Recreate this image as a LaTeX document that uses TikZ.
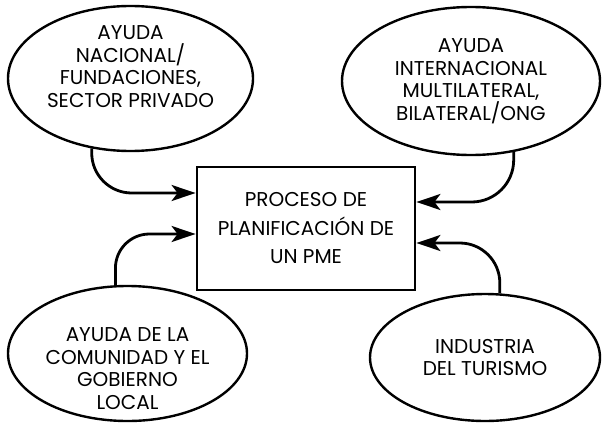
\documentclass[tikz,border=0pt]{standalone}
\usepackage{fontspec}
\setmainfont{Poppins}
\usetikzlibrary{shapes}
\usetikzlibrary{positioning,arrows.meta}

\tikzset{
  ell/.style={ellipse,draw,line width=1.2pt,inner sep=0pt},
  txt/.style={align=center,font=\fontsize{10}{11.25}\selectfont},
  arr/.style={-{Stealth[length=12pt,width=8pt,inset=3pt]},line width=1.4pt},
}

\begin{document}
\begin{tikzpicture}[node distance=2cm,on grid,align=center]
  \useasboundingbox (0,0) rectangle (302pt,-211.5pt);
  \node[draw,line width=1.4pt,minimum width=109pt,minimum height=61.5pt,inner sep=0pt,
        font=\fontsize{10}{14.25}\selectfont] (pme) at (153pt,-114.25pt)
        {PROCESO DE\\PLANIFICACIÓN DE\\UN PME};
  \node[ell,minimum width=122.5pt,minimum height=72.5pt,
        label={[txt,yshift=6pt]center:AYUDA\\NACIONAL/\\FUNDACIONES,\\SECTOR PRIVADO}]
        (nac) [above left=75pt and 87.75pt of pme] {};
  \node[ell,minimum width=129pt,minimum height=74pt,
        label={[txt]center:AYUDA\\INTERNACIONAL\\MULTILATERAL,\\BILATERAL/ONG}]
        (int) [above right=73.75pt and 82.5pt of pme] {};
  \node[ell,minimum width=119.5pt,minimum height=67.5pt,
        label={[txt,yshift=-7.5pt]center:AYUDA DE LA\\COMUNIDAD Y EL\\GOBIERNO\\LOCAL}]
        (com) [below left=62.5pt and 89.25pt of pme] {};
  \node[ell,minimum width=115pt,minimum height=63.5pt,
        label={[txt]center:INDUSTRIA\\DEL TURISMO}]
        (tur) [below right=64.5pt and 89.5pt of pme] {};
  \draw[arr,rounded corners=20pt] (nac.241) |- ([yshift=17.75pt]pme.west);
  \draw[arr,rounded corners=21pt] (int.301) |- ([yshift=13.25pt]pme.east);
  \draw[arr,rounded corners=17pt] (com.100) |- ([yshift=-2.75pt]pme.west);
  \draw[arr,rounded corners=20pt] (tur.77) |- ([yshift=-7.25pt]pme.east);
\end{tikzpicture}
\end{document}
